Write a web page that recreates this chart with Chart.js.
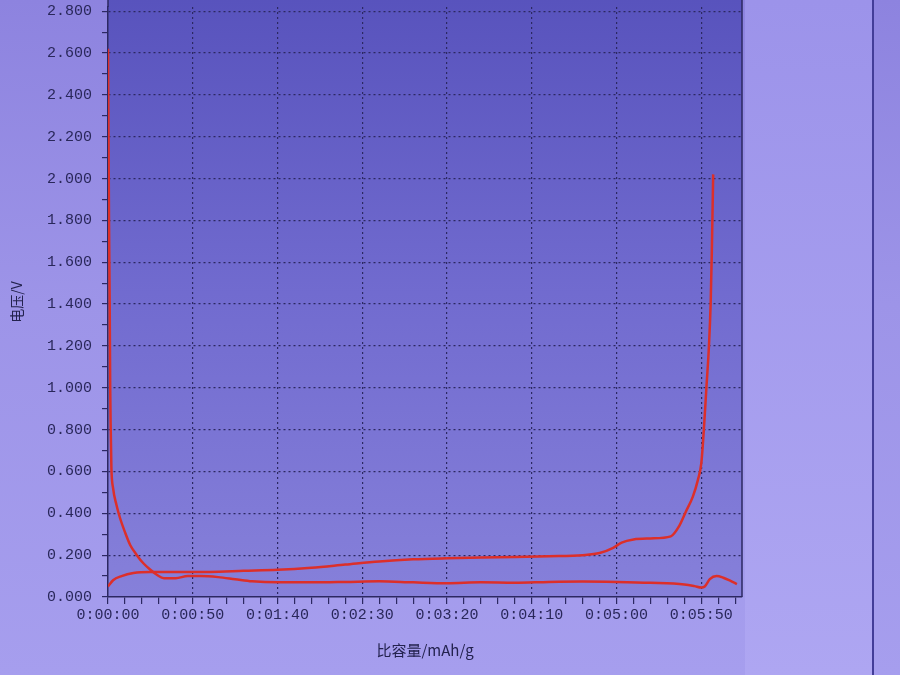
<!DOCTYPE html>
<html>
<head>
<meta charset="utf-8">
<script src="https://cdn.jsdelivr.net/npm/chart.js@4/dist/chart.umd.min.js"></script>
<style>
  html, body { margin: 0; padding: 0; }
  body {
    width: 900px; height: 675px; overflow: hidden; position: relative;
    background: linear-gradient(to bottom, #8d83df 0%, #9d94e8 45%, #a69eee 100%);
  }
  #panel {
    position: absolute; left: 745px; top: 0; width: 127px; height: 675px;
    background: linear-gradient(to bottom, #9c93ea, #aea6f2);
    border-right: 2px solid #433d98;
  }
  #chart { position: absolute; left: 0; top: -12px; }
</style>
</head>
<body>
<div id="panel"></div>
<canvas id="chart" width="900" height="687"></canvas>
<script>
// capacity axis is shown as h:mm:ss, values kept in seconds
const dischargeCap = [0, 0.3, 0.6, 1, 1.3, 1.6, 2, 3, 5, 7, 10, 13, 17, 21, 25, 29, 33, 40, 47, 55, 65, 75, 85, 100, 120, 140, 160, 180, 200, 220, 240, 260, 280, 300, 320, 340, 346, 350, 352, 355, 359, 363, 367, 371];
const dischargeVolt = [2.62, 2.2, 1.8, 1.4, 1.0, 0.8, 0.62, 0.52, 0.44, 0.38, 0.31, 0.25, 0.2, 0.16, 0.13, 0.105, 0.09, 0.09, 0.1, 0.1, 0.095, 0.085, 0.075, 0.07, 0.07, 0.072, 0.075, 0.07, 0.066, 0.07, 0.068, 0.072, 0.074, 0.072, 0.068, 0.06, 0.052, 0.045, 0.05, 0.085, 0.1, 0.092, 0.078, 0.062];

const chargeCap = [0, 3, 8, 15, 25, 40, 60, 80, 100, 120, 140, 160, 180, 200, 230, 260, 280, 290, 298, 303, 310, 320, 332, 337, 341, 345, 348, 350, 351.5, 353, 354.5, 355.5, 356.2, 357];
const chargeVolt = [0.05, 0.08, 0.1, 0.115, 0.12, 0.12, 0.12, 0.125, 0.13, 0.14, 0.155, 0.17, 0.18, 0.185, 0.19, 0.195, 0.2, 0.21, 0.235, 0.26, 0.275, 0.28, 0.29, 0.34, 0.41, 0.48, 0.56, 0.64, 0.8, 1.0, 1.2, 1.4, 1.65, 2.02];

const xMax = 374;
const yMax = 2.82;

const gridDark = '#2c2862';
const textDark = '#29275a';
const red = '#dc2f2a';

function toPoints(xs, ys) {
  return xs.map((x, i) => ({ x: x, y: ys[i] }));
}

function fmtTime(sec) {
  const h = Math.floor(sec / 3600);
  const m = Math.floor((sec % 3600) / 60);
  const s = Math.round(sec % 60);
  return h + ':' + String(m).padStart(2, '0') + ':' + String(s).padStart(2, '0');
}

const plotBg = {
  id: 'plotBg',
  beforeDraw(chart) {
    const { ctx, chartArea: a } = chart;
    const g = ctx.createLinearGradient(0, 0, 0, a.bottom);
    g.addColorStop(0, '#5752bc');
    g.addColorStop(0.5, '#716bcf');
    g.addColorStop(1, '#8680da');
    ctx.save();
    ctx.fillStyle = g;
    ctx.fillRect(a.left, 0, a.right - a.left, a.bottom);
    ctx.restore();
  },
  afterDraw(chart) {
    const { ctx, chartArea: a } = chart;
    ctx.save();
    ctx.strokeStyle = gridDark;
    ctx.lineWidth = 1.5;
    ctx.beginPath();
    ctx.moveTo(a.right, 0);
    ctx.lineTo(a.right, a.bottom);
    ctx.moveTo(a.left, 0);
    ctx.lineTo(a.left, a.top);
    ctx.stroke();
    ctx.restore();
  }
};

new Chart(document.getElementById('chart').getContext('2d'), {
  type: 'line',
  data: {
    datasets: [
      {
        label: 'discharge',
        data: toPoints(dischargeCap, dischargeVolt),
        borderColor: red,
        borderWidth: 2.5,
        pointRadius: 0,
        cubicInterpolationMode: 'monotone'
      },
      {
        label: 'charge',
        data: toPoints(chargeCap, chargeVolt),
        borderColor: red,
        borderWidth: 2.5,
        pointRadius: 0,
        cubicInterpolationMode: 'monotone'
      }
    ]
  },
  options: {
    responsive: false,
    animation: false,
    layout: { padding: { left: 4, right: 158, top: 0, bottom: 12 } },
    plugins: { legend: { display: false }, tooltip: { enabled: false } },
    scales: {
      x: {
        type: 'linear',
        min: 0,
        max: xMax,
        afterFit: (s) => { s.height = 66; },
        ticks: {
          stepSize: 10,
          includeBounds: false,
          autoSkip: false,
          maxRotation: 0,
          padding: 2,
          color: textDark,
          font: { family: 'Liberation Mono', size: 15 },
          callback: (v) => (v % 50 === 0 ? fmtTime(v) : '')
        },
        grid: {
          color: (c) => (c.tick && c.tick.value % 50 === 0 && c.tick.value > 0 ? gridDark : 'transparent'),
          tickColor: gridDark,
          tickLength: 7,
          lineWidth: 1.2
        },
        border: { display: true, color: gridDark, width: 1.5, dash: [2, 3] },
        title: {
          display: true,
          text: '比容量/mAh/g',
          color: '#23224e',
          font: { family: 'Noto Sans CJK SC', size: 15 },
          padding: { top: 4, bottom: 4 }
        }
      },
      y: {
        min: 0,
        max: yMax,
        afterFit: (s) => { s.width = 104; },
        ticks: {
          stepSize: 0.1,
          includeBounds: false,
          autoSkip: false,
          padding: 10,
          color: textDark,
          font: { family: 'Liberation Mono', size: 15 },
          callback: (v) => (Math.round(v * 10) % 2 === 0 ? Number(v).toFixed(3) : '')
        },
        grid: {
          color: (c) => (c.tick && Math.round(c.tick.value * 10) % 2 === 0 && c.tick.value > 0 ? gridDark : 'transparent'),
          tickColor: gridDark,
          tickLength: 6,
          lineWidth: 1.2
        },
        border: { display: true, color: gridDark, width: 1.5, dash: [2, 3] },
        title: {
          display: true,
          text: '电压/V',
          color: '#23224e',
          font: { family: 'Noto Sans CJK SC', size: 14 },
          padding: { top: 4, bottom: 4 }
        }
      }
    }
  },
  plugins: [plotBg]
});
</script>
</body>
</html>
